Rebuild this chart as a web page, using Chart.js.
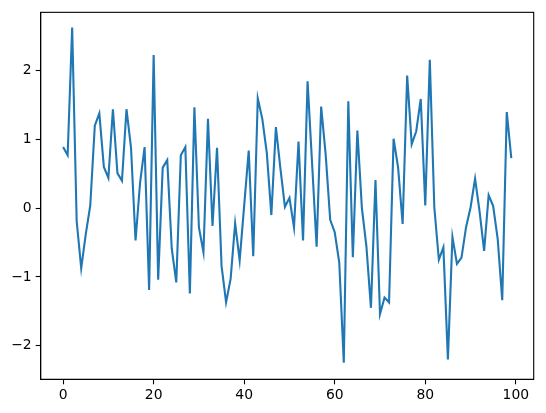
<!DOCTYPE html>
<html>
<head>
<meta charset="utf-8">
<script src="https://cdn.jsdelivr.net/npm/chart.js@4"></script>
<style>
  html, body { margin: 0; padding: 0; background: #fff; }
  #wrap { width: 546px; height: 413px; }
</style>
</head>
<body>
<div id="wrap"><canvas id="c" width="546" height="413"></canvas></div>
<script>
const yValues = [
  0.89, 0.77, 2.63, -0.19, -0.875, -0.38, 0.04, 1.20, 1.38, 0.60,
  0.44, 1.44, 0.51, 0.40, 1.44, 0.88, -0.47, 0.37, 0.89, -1.19,
  2.23, -1.04, 0.59, 0.70, -0.59, -1.08, 0.77, 0.89, -1.24, 1.47,
  -0.28, -0.64, 1.30, -0.26, 0.88, -0.84, -1.37, -1.03, -0.22, -0.76,
  0.04, 0.84, -0.70, 1.60, 1.30, 0.80, -0.10, 1.18, 0.58, 0.02,
  0.15, -0.28, 0.97, -0.47, 1.845, 0.65, -0.56, 1.48, 0.78, -0.17,
  -0.35, -0.79, -2.25, 1.555, -0.715, 1.13, 0.00, -0.56, -1.45, 0.41,
  -1.54, -1.30, -1.37, 1.01, 0.59, -0.23, 1.93, 0.93, 1.12, 1.59,
  0.04, 2.16, 0.01, -0.75, -0.57, -2.20, -0.42, -0.81, -0.72, -0.28,
  0.01, 0.43, -0.05, -0.62, 0.19, 0.03, -0.45, -1.34, 1.40, 0.73
];
const xIndex = yValues.map((_, i) => i);
const xTicks = [0, 20, 40, 60, 80, 100];
const yTicks = [-2, -1, 0, 1, 2];

const points = xIndex.map((x, i) => ({ x: x, y: yValues[i] }));

const frame = {
  id: 'frame',
  afterDraw(chart) {
    const a = chart.chartArea, ctx = chart.ctx;
    ctx.save();
    ctx.strokeStyle = '#000';
    ctx.lineWidth = 1.1;
    ctx.strokeRect(a.left, a.top, a.right - a.left, a.bottom - a.top);
    ctx.restore();
  }
};

const font = { family: "'DejaVu Sans', sans-serif", size: 13.9 };
const fmt = v => (v < 0 ? '\u2212' + Math.abs(v) : String(v));

new Chart(document.getElementById('c'), {
  type: 'line',
  data: {
    datasets: [{
      data: points,
      borderColor: '#1f77b4',
      borderWidth: 2.1,
      pointRadius: 0,
      tension: 0,
      fill: false
    }]
  },
  options: {
    responsive: false,
    animation: false,
    events: [],
    plugins: { legend: { display: false }, tooltip: { enabled: false } },
    layout: { padding: { left: 0, top: 10.7, right: 12.3, bottom: 0 } },
    scales: {
      x: {
        type: 'linear',
        min: -4.95,
        max: 103.95,
        afterBuildTicks: s => { s.ticks = xTicks.map(v => ({ value: v })); },
        afterFit: s => { s.height = 33.7; },
        grid: { drawOnChartArea: false, drawTicks: true, tickLength: 5, tickColor: '#000', tickWidth: 1.1 },
        border: { display: true, color: '#000', width: 1.1 },
        ticks: { color: '#000', font: font, padding: 3, maxRotation: 0, autoSkip: false, callback: fmt }
      },
      y: {
        type: 'linear',
        min: -2.49,
        max: 2.85,
        afterBuildTicks: s => { s.ticks = yTicks.map(v => ({ value: v })); },
        afterFit: s => { s.width = 40.7; },
        grid: { drawOnChartArea: false, drawTicks: true, tickLength: 5, tickColor: '#000', tickWidth: 1.1 },
        border: { display: true, color: '#000', width: 1.1 },
        ticks: { color: '#000', font: font, padding: 4, autoSkip: false, callback: fmt }
      }
    }
  },
  plugins: [frame]
});
</script>
</body>
</html>
